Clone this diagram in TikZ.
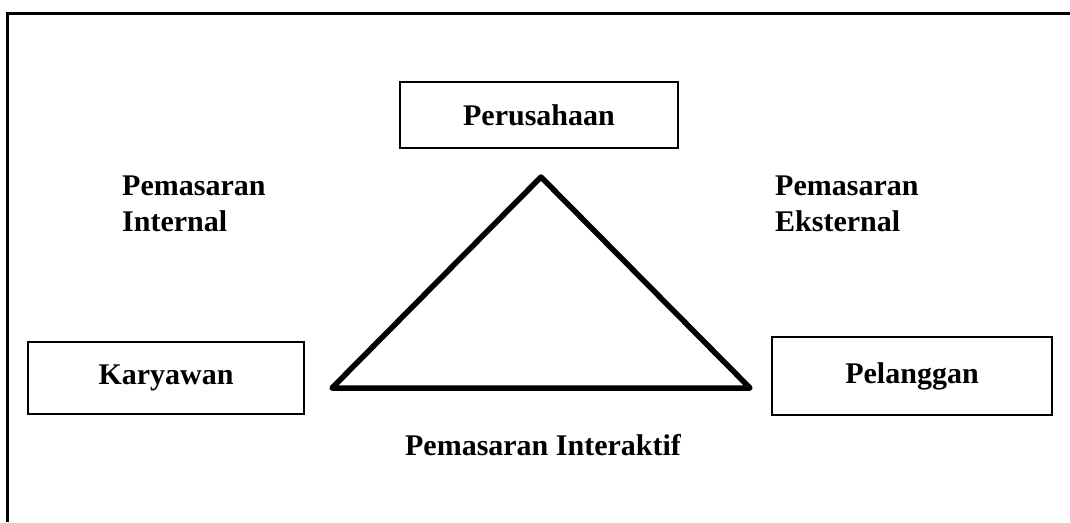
\documentclass[tikz,border=0pt]{standalone}
\usepackage{fontspec}
\setmainfont{Liberation Serif}
\usepackage{tikz}
\usetikzlibrary{positioning}

\begin{document}
\begin{tikzpicture}[x=1pt,y=-1pt,
  box/.style={draw,line width=2.2pt,inner sep=0pt,font=\fontsize{30}{36}\selectfont\bfseries},
  lbl/.style={align=left,inner sep=0pt,font=\fontsize{30}{36}\selectfont\bfseries}]
\useasboundingbox (0,0) rectangle (1070,522);
% frame (top and left only)
\draw[line width=3pt] (7,522) -- (7,13) -- (1070,13);
% the three parties
\node[box,minimum width=278pt,minimum height=66pt] (per) at (539,115) {Perusahaan};
\node[box,minimum width=276pt,minimum height=72pt] (kar) at (166,378) {Karyawan};
\node[box,minimum width=280pt,minimum height=78pt] (pel) at (912,376) {Pelanggan};
% triangle
\coordinate (top) at (541,177);
\coordinate (bl) at (332,388);
\coordinate (br) at (750,388);
\draw[line width=5.5pt,line join=round] (top) -- (br) -- (bl) -- cycle;
% labels
\node[lbl,anchor=west] (int) at (122,204) {Pemasaran\\Internal};
\node[lbl,anchor=west] (eks) at (775,204) {Pemasaran\\Eksternal};
\node[lbl,anchor=base] (itr) at (543,455) {Pemasaran Interaktif};
\end{tikzpicture}
\end{document}
